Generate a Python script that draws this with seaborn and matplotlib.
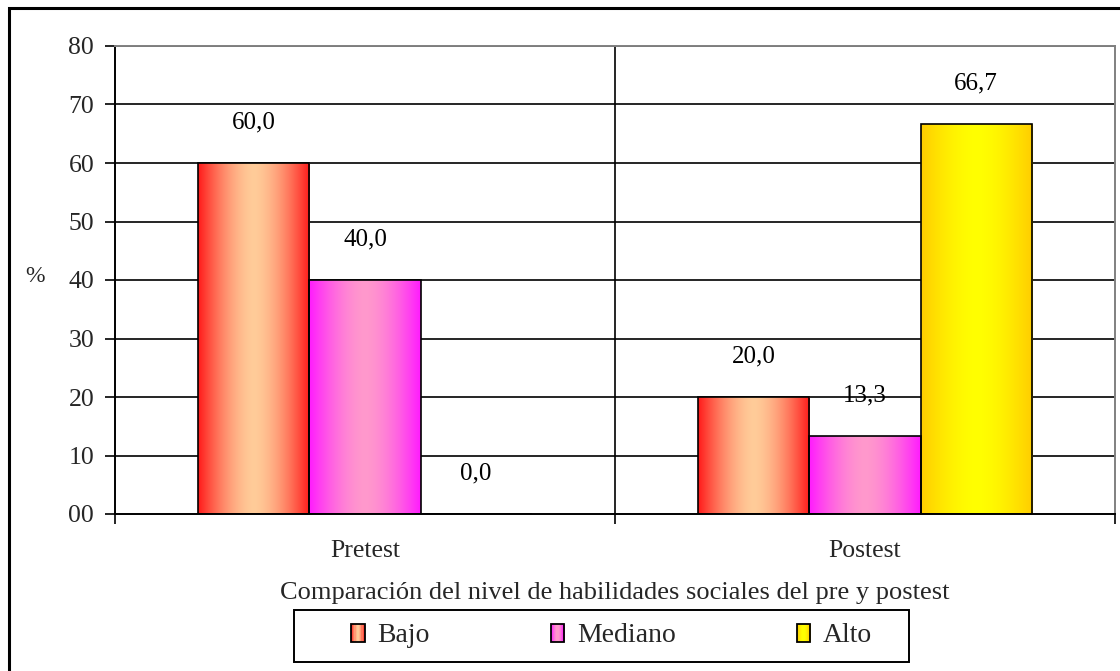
import numpy as np
import pandas as pd
import matplotlib
matplotlib.use("Agg")
import matplotlib.pyplot as plt
from matplotlib.patches import Patch, Rectangle
from matplotlib.legend_handler import HandlerBase
from matplotlib.colors import to_rgb
import seaborn as sns

# Datos: porcentaje por nivel de habilidades sociales
momentos = ["Pretest", "Postest"]
niveles = ["Bajo", "Mediano", "Alto"]
bajo = [60.0, 20.0]
mediano = [40.0, 13.3]
alto = [0.0, 66.7]
yticks = [0, 10, 20, 30, 40, 50, 60, 70, 80]

# Colores de borde y centro del degradado de cada serie
borde = {"Bajo": "#FF1A1A", "Mediano": "#FF1AFF", "Alto": "#FFCC00"}
centro = {"Bajo": "#FFCC99", "Mediano": "#FF99CC", "Alto": "#FFFF00"}
muestra = {"Bajo": "#FF9070", "Mediano": "#FF80E6", "Alto": "#FFEE00"}

df = pd.DataFrame({
    "momento": np.repeat(momentos, 3),
    "nivel": niveles * 2,
    "porcentaje": [v for trio in zip(bajo, mediano, alto) for v in trio],
})

sns.set_theme(style="white")
plt.rcParams["font.family"] = ["Liberation Serif", "DejaVu Serif"]
SERIF = "Liberation Serif"


def perfil(c_borde, c_centro, n=200):
    x = np.linspace(0, 1, n)
    t = 1 - np.abs(2 * x - 1) ** 1.6
    a = np.array(to_rgb(c_borde))
    b = np.array(to_rgb(c_centro))
    return a[None, :] * (1 - t[:, None]) + b[None, :] * t[:, None]


fig = plt.figure(figsize=(11.2, 6.71), dpi=100)
ax = fig.add_axes([115 / 1120, 1 - 514 / 671, 1000 / 1120, 468 / 671])

sns.barplot(data=df, x="momento", y="porcentaje", hue="nivel",
            hue_order=niveles, order=momentos, palette=muestra,
            width=2 / 3, gap=0, legend=False, ax=ax,
            edgecolor="black", linewidth=1.2, saturation=1)

# Relleno en degradado horizontal dentro de cada barra
for contenedor, nivel in zip(ax.containers, niveles):
    img = perfil(borde[nivel], centro[nivel])[None, :, :]
    for barra in contenedor:
        x0, y0 = barra.get_x(), barra.get_y()
        w, h = barra.get_width(), barra.get_height()
        if h > 0:
            im = ax.imshow(img, extent=[x0, x0 + w, y0, y0 + h], aspect="auto",
                           interpolation="bilinear", zorder=barra.get_zorder())
            im.set_clip_path(barra)
        barra.set_facecolor("none")
        barra.set_zorder(barra.get_zorder() + 0.1)
    # Etiquetas de valor
    for barra in contenedor:
        v = barra.get_height()
        ax.annotate(f"{v:.1f}".replace(".", ","),
                    (barra.get_x() + barra.get_width() / 2, v),
                    xytext=(0, 29), textcoords="offset points",
                    ha="center", va="center", fontsize=18, family=SERIF,
                    color="black")

ax.set_xlim(-0.5, 1.5)
ax.set_ylim(0, 80)
ax.set_yticks(yticks)
ax.set_yticklabels([f"{v:02d}" for v in yticks], fontsize=18.5, family=SERIF)
for v in yticks[1:]:
    ax.axhline(v, color="black", lw=1.2, zorder=0.5)
ax.axvline(0.5, color="black", lw=1.2, zorder=0.5)

ax.set_xticks([-0.5, 0.5, 1.5])
ax.set_xticklabels([])
ax.set_xticks([0, 1], minor=True)
ax.set_xticklabels(momentos, minor=True, fontsize=18.5, family=SERIF)
ax.tick_params(axis="x", which="major", direction="out", length=7,
               width=1.2, color="black", bottom=True)
ax.tick_params(axis="x", which="minor", length=0, pad=19)
ax.tick_params(axis="y", direction="out", length=7, width=1.2,
               color="black", left=True, pad=8)

for lado in ["left", "bottom"]:
    ax.spines[lado].set_color("black")
    ax.spines[lado].set_linewidth(1.4)
for lado in ["top", "right"]:
    ax.spines[lado].set_color("#808080")
    ax.spines[lado].set_linewidth(1.4)

ax.set_xlabel("Comparación del nivel de habilidades sociales del pre y postest",
              fontsize=19, family=SERIF, labelpad=14)
ax.set_ylabel("%", rotation=0, fontsize=17, family=SERIF)
ax.yaxis.set_label_coords(-0.08, 0.485)


class MuestraDegradada(HandlerBase):
    """Cuadro de leyenda relleno con franjas verticales en degradado."""

    def __init__(self, c_borde, c_centro, **kw):
        super().__init__(**kw)
        self.colores = perfil(c_borde, c_centro, n=12)

    def create_artists(self, legend, orig_handle, xdescent, ydescent,
                       width, height, fontsize, trans):
        n = len(self.colores)
        artistas = []
        for i, c in enumerate(self.colores):
            artistas.append(Rectangle((-xdescent + i * width / n, -ydescent),
                                      width / n + 0.3, height, facecolor=c,
                                      edgecolor="none", transform=trans))
        artistas.append(Rectangle((-xdescent, -ydescent), width, height,
                                  fill=False, edgecolor="black", lw=1.3,
                                  transform=trans))
        return artistas


manijas = [Patch(facecolor=muestra[n], edgecolor="black") for n in niveles]
mapa = {m: MuestraDegradada(borde[n], centro[n]) for m, n in zip(manijas, niveles)}
fig.legend(manijas, niveles, loc="center", bbox_to_anchor=(0.546, 1 - 636 / 671),
           ncol=3, frameon=False, prop={"family": SERIF, "size": 20},
           handlelength=0.5, handleheight=0.6, handletextpad=0.45,
           columnspacing=4.35, handler_map=mapa)
fig.add_artist(Rectangle((294 / 1120, 1 - 662 / 671), 615 / 1120, 52 / 671,
                         transform=fig.transFigure, fill=False,
                         edgecolor="black", lw=1.4))

# Marco exterior
fig.add_artist(Rectangle((8.5 / 1120, -0.05), 1.1, 1.05 - 8.5 / 671,
                         transform=fig.transFigure, fill=False,
                         edgecolor="black", lw=2.2, clip_on=False))

fig.savefig("out.png", dpi=100)
